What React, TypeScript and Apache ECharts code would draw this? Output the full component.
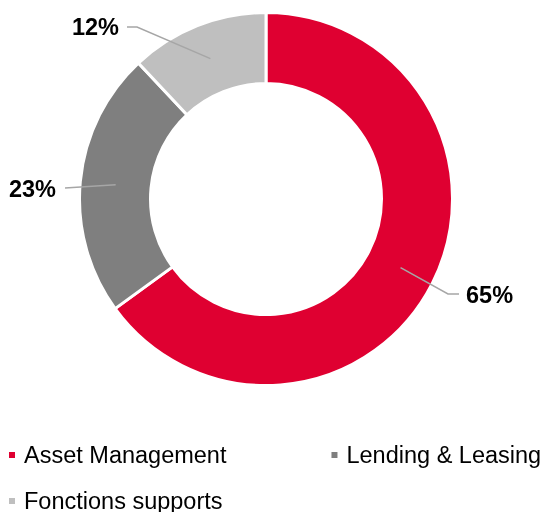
import React, { useEffect, useRef } from "react";
import * as echarts from "echarts";

const categories = ["Asset Management", "Lending & Leasing", "Fonctions supports"];
const values = [65, 23, 12];
const colors = ["#DF0031", "#7F7F7F", "#BFBFBF"];

const CENTER: [number, number] = [266, 199];
const R_IN = 115.5;
const R_OUT = 186.5;
const R_MID = 151;

// label placements (text anchor + line points after the start point)
const labelPlacement = [
  { x: 466, y: 295, align: "left", line: [[448, 294], [459, 294]] },
  { x: 56, y: 189, align: "right", line: [[65, 188]] },
  { x: 119, y: 27, align: "right", line: [[137, 27], [127, 27]] },
];

const FONT = "'Liberation Sans', Arial, Helvetica, sans-serif";

export default function App() {
  const ref = useRef<HTMLDivElement>(null);
  useEffect(() => {
    if (!ref.current) return;
    const chart = echarts.init(ref.current, null, { renderer: "svg" });
    const total = values.reduce((a, b) => a + b, 0);
    const midAngles: number[] = [];
    let acc = 0;
    values.forEach((v) => {
      const mid = ((acc + v / 2) / total) * Math.PI * 2;
      midAngles.push(mid);
      acc += v;
    });
    const startPoint = (i: number): [number, number] => [
      CENTER[0] + R_MID * Math.sin(midAngles[i]),
      CENTER[1] - R_MID * Math.cos(midAngles[i]),
    ];
    const data = categories.map((name, i) => ({
      name,
      value: values[i],
      itemStyle: { color: colors[i] },
    }));
    const legendText = { fontFamily: FONT, fontSize: 23.5, color: "#000", padding: [0, 0, 0, 3] };
    chart.setOption({
      animation: false,
      legend: [
        {
          data: categories.slice(0, 2),
          left: 7,
          top: 443,
          padding: 0,
          icon: "rect",
          itemWidth: 8,
          itemHeight: 8,
          itemGap: 103,
          selectedMode: false,
          textStyle: legendText,
        },
        {
          data: categories.slice(2),
          left: 7,
          top: 489,
          padding: 0,
          icon: "rect",
          itemWidth: 8,
          itemHeight: 8,
          selectedMode: false,
          textStyle: legendText,
        },
      ],
      series: [
        {
          type: "pie",
          center: CENTER,
          radius: [R_IN, R_OUT],
          startAngle: 90,
          clockwise: true,
          z: 2,
          itemStyle: { borderColor: "#fff", borderWidth: 3 },
          emphasis: { disabled: true },
          label: { show: false },
          labelLine: { show: false },
          data,
        },
        {
          type: "pie",
          center: CENTER,
          radius: [0, R_MID],
          startAngle: 90,
          clockwise: true,
          z: 5,
          silent: true,
          avoidLabelOverlap: false,
          itemStyle: { color: "rgba(0,0,0,0)", borderWidth: 0 },
          emphasis: { disabled: true },
          label: {
            show: true,
            position: "outside",
            formatter: "{c}%",
            fontFamily: FONT,
            fontSize: 23.5,
            fontWeight: "bold",
            color: "#000",
          },
          labelLine: {
            show: true,
            length: 20,
            length2: 10,
            lineStyle: { color: "#A6A6A6", width: 1.5, opacity: 1 },
          },
          labelLayout: (params: any) => {
            const i = params.dataIndex;
            const p = labelPlacement[i];
            return {
              x: p.x,
              y: p.y,
              align: p.align,
              verticalAlign: "middle",
              labelLinePoints: [startPoint(i), ...p.line],
            };
          },
          data: categories.map((name, i) => ({ name, value: values[i] })),
        },
      ],
    });
    return () => chart.dispose();
  }, []);
  return (
    <div
      ref={ref}
      style={{ position: "fixed", left: 0, top: 0, width: 547, height: 512 }}
    />
  );
}
